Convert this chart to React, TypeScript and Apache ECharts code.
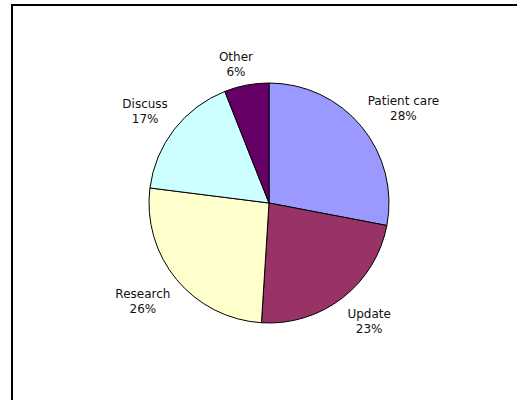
import React, { useEffect, useRef } from "react";
import * as echarts from "echarts";

const categories = ["Patient care", "Update", "Research", "Discuss", "Other"];
const values = [28, 23, 26, 17, 6];
const colors = ["#9999FF", "#993366", "#FFFFCC", "#CCFFFF", "#660066"];

const CX = 269;
const CY = 203;
const R = 120;
const LABEL_DIST = 128;

export default function App() {
  const ref = useRef<HTMLDivElement>(null);
  useEffect(() => {
    if (!ref.current) return;
    const chart = echarts.init(ref.current, undefined, { renderer: "svg" });
    const total = values.reduce((a, b) => a + b, 0);
    const cum: number[] = [];
    let acc = 0;
    values.forEach((v) => {
      cum.push(acc);
      acc += v;
    });
    const clamp = (v: number) => Math.max(-1, Math.min(1, v));
    chart.setOption({
      animation: false,
      backgroundColor: "#ffffff",
      graphic: [
        {
          type: "rect",
          shape: { x: 12, y: 5, width: 700, height: 600 },
          style: { fill: "none", stroke: "#000", lineWidth: 2 },
          silent: true,
        },
      ],
      series: [
        {
          type: "pie",
          center: [CX, CY],
          radius: R,
          startAngle: 90,
          clockwise: true,
          avoidLabelOverlap: false,
          itemStyle: { borderColor: "#000", borderWidth: 1 },
          label: {
            show: true,
            position: "outside",
            fontFamily: "DejaVu Sans",
            fontSize: 12,
            lineHeight: 15,
            color: "#111",
            formatter: (p: any) => `${p.name}\n${Math.round(p.percent)}%`,
          },
          labelLine: { show: false },
          labelLayout: (params: any) => {
            const i = params.dataIndex;
            const m = (cum[i] + values[i] / 2) / total;
            const th = m * Math.PI * 2;
            const dx = Math.sin(th);
            const dy = -Math.cos(th);
            const w = params.labelRect.width;
            const h = params.labelRect.height;
            const px = CX + dx * LABEL_DIST;
            const py = CY + dy * LABEL_DIST;
            return {
              x: px + clamp(dx * 2.85) * (w / 2),
              y: py + clamp(dy * 2.85) * (h / 2) + 2,
              align: "center",
              verticalAlign: "middle",
            };
          },
          emphasis: { disabled: true },
          data: categories.map((name, i) => ({
            name,
            value: values[i],
            itemStyle: { color: colors[i] },
          })),
        },
      ],
    });
    return () => chart.dispose();
  }, []);
  return (
    <div
      ref={ref}
      style={{ position: "fixed", left: 0, top: 0, width: 517, height: 400 }}
    />
  );
}
